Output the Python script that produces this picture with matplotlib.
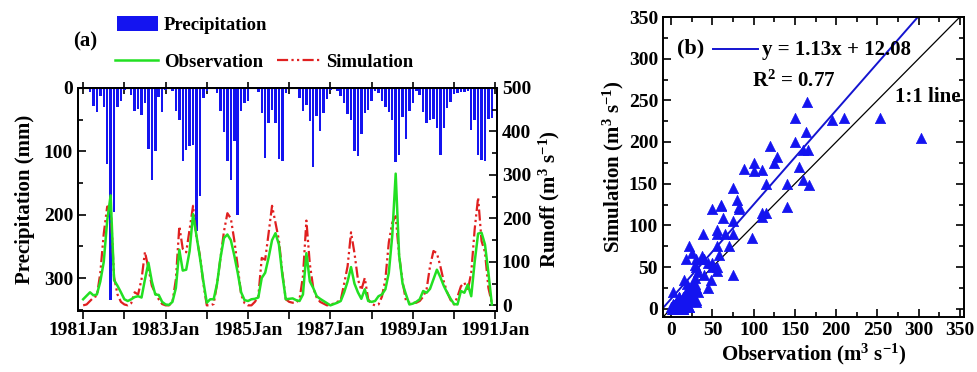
import numpy as np
import matplotlib
matplotlib.use("Agg")
import matplotlib.pyplot as plt
from matplotlib.ticker import MultipleLocator, FixedLocator

plt.rcParams['font.family'] = ['Liberation Serif', 'DejaVu Serif']
plt.rcParams['font.weight'] = 'bold'
plt.rcParams['axes.labelweight'] = 'bold'
plt.rcParams['mathtext.default'] = 'regular'

# monthly precipitation (mm), Jan 1981 - Dec 1990
precip = [7, 28, 38, 12, 30, 120, 335, 195, 30, 20, 3, 1,
          11, 37, 33, 43, 24, 97, 145, 100, 14, 38, 3, 1,
          5, 36, 50, 116, 98, 92, 90, 226, 170, 16, 4, 1,
          2, 8, 37, 70, 115, 146, 83, 200, 37, 24, 21, 2,
          1, 6, 40, 110, 55, 35, 55, 112, 116, 8, 1, 0,
          2, 16, 36, 27, 52, 124, 44, 68, 40, 18, 3, 0,
          4, 12, 23, 41, 51, 100, 107, 72, 40, 35, 20, 5,
          8, 20, 30, 38, 50, 117, 106, 45, 81, 37, 24, 5,
          11, 38, 56, 50, 49, 63, 106, 63, 32, 22, 10, 8,
          6, 6, 4, 66, 50, 106, 113, 116, 49, 48, 0, 0]

# monthly runoff (m3/s)
observed = [14, 22, 30, 23, 25, 55, 100, 195, 253, 58, 45, 30,
            14, 10, 14, 19, 21, 18, 60, 98, 55, 25, 24, 8,
            2, 1, 8, 40, 128, 80, 82, 125, 210, 160, 110, 55,
            6, 14, 14, 50, 110, 155, 163, 150, 115, 75, 30, 12,
            10, 14, 15, 18, 63, 75, 110, 150, 166, 140, 70, 14,
            15, 16, 12, 10, 25, 120, 55, 40, 21, 15, 10, 5,
            0, 3, 6, 10, 30, 55, 88, 50, 30, 15, 37, 10,
            8, 10, 21, 25, 37, 75, 160, 303, 115, 50, 25, 2,
            4, 8, 14, 33, 29, 38, 60, 82, 65, 45, 29, 15,
            3, 2, 33, 29, 48, 21, 100, 165, 167, 140, 75, 2]

simulated = [0, 2, 10, 18, 22, 75, 165, 227, 229, 65, 25, 8,
             2, 0, 5, 30, 25, 60, 123, 85, 45, 28, 14, 3,
             0, 0, 8, 60, 182, 130, 122, 175, 229, 155, 115, 50,
             0, 0, 3, 50, 110, 170, 212, 200, 150, 90, 25, 5,
             0, 0, 8, 20, 109, 105, 166, 229, 190, 150, 75, 14,
             8, 6, 6, 14, 67, 195, 95, 40, 18, 8, 4, 0,
             2, 4, 8, 12, 50, 90, 168, 120, 60, 35, 63, 14,
             3, 0, 2, 20, 60, 145, 190, 205, 115, 55, 10, 6,
             6, 6, 10, 20, 37, 90, 125, 120, 90, 55, 30, 12,
             2, 20, 44, 52, 35, 75, 175, 248, 148, 122, 40, 5]

fit_slope, fit_intercept, r2 = 1.13, 12.08, 0.77
year_labels = ['1981Jan', '1983Jan', '1985Jan', '1987Jan', '1989Jan', '1991Jan']

months = np.arange(len(observed))
precip_x = months + 2  # bars sit about two months right of the runoff curves in the source

fig = plt.figure(figsize=(9.78, 3.72), dpi=100)

# ---- panel (a)
ax = fig.add_axes([78 / 978, 1 - 311 / 372, 419 / 978, 223 / 372])
bars = ax.bar(precip_x, precip, width=0.72, color='#1414f0', zorder=1)
ax.set_ylim(352, 0)
ax.set_xlim(-1.5, 120.5)
ax.yaxis.set_major_locator(FixedLocator([0, 100, 200, 300]))
ax.yaxis.set_minor_locator(MultipleLocator(50))
ax.set_xticks(np.arange(0, 121, 24))
ax.set_xticklabels(year_labels)
ax.set_xticks(np.arange(12, 121, 24), minor=True)
ax.tick_params(axis='x', which='both', direction='out', length=6, width=1.2,
               labelsize=14, pad=2)
ax.tick_params(axis='y', which='both', direction='in', width=1.2, labelsize=14)
ax.tick_params(axis='y', which='major', length=6)
ax.tick_params(axis='y', which='minor', length=3.5)
ax.set_ylabel('Precipitation (mm)', fontsize=15, labelpad=6)

top = ax.secondary_xaxis('top')
top.set_xticks(np.arange(0, 121, 12))
top.tick_params(direction='inout', length=8, width=1.2, labeltop=False)

ax2 = ax.twinx()
obs_line, = ax2.plot(months, observed, color='#22e022', lw=1.8, zorder=3)
sim_line, = ax2.plot(months, simulated, color='#e02020', lw=1.6,
                     linestyle=(0, (5, 1.5, 1, 1.5, 1, 1.5)), zorder=2)
ax2.set_ylim(-13, 500)
ax2.yaxis.set_major_locator(MultipleLocator(100))
ax2.yaxis.set_minor_locator(MultipleLocator(50))
ax2.tick_params(axis='y', which='both', direction='in', width=1.2, labelsize=14)
ax2.tick_params(axis='y', which='major', length=6)
ax2.tick_params(axis='y', which='minor', length=3.5)
ax2.set_ylabel('Runoff (m$^{3}$ s$^{-1}$)', fontsize=15, labelpad=4)
for a in (ax, ax2):
    for s in a.spines.values():
        s.set_linewidth(1.4)
    for lab in a.get_xticklabels() + a.get_yticklabels():
        lab.set_fontweight('bold')

fig.legend([bars], ['Precipitation'], loc='center left',
           bbox_to_anchor=(117 / 978, 1 - 25 / 372), frameon=False, fontsize=13.5,
           handlelength=2.2, handleheight=0.9, handletextpad=0.3, borderpad=0,
           borderaxespad=0)
fig.legend([obs_line, sim_line], ['Observation', 'Simulation'], loc='center left',
           bbox_to_anchor=(115 / 978, 1 - 62 / 372), frameon=False, fontsize=13.5,
           ncol=2, handlelength=2.3, handletextpad=0.3, columnspacing=0.75,
           borderpad=0, borderaxespad=0)
fig.text(73 / 978, 1 - 41 / 372, '(a)', fontsize=15, va='center')

# ---- panel (b)
bx = fig.add_axes([663 / 978, 1 - 317 / 372, 301 / 978, 300 / 372])
obs = np.array(observed)
sim = np.array(simulated)
bx.scatter(obs, sim, marker='^', s=55, color='#1414f0', edgecolors='#1414f0',
           linewidths=0.5, zorder=3)
lim = np.array([-10, 355])
bx.plot(lim, lim, color='black', lw=0.9, zorder=2)
bx.plot(lim, fit_slope * lim + fit_intercept, color='#1414d0', lw=1.4, zorder=2)
bx.set_xlim(-10, 355)
bx.set_ylim(-10, 350)
for axis in (bx.xaxis, bx.yaxis):
    axis.set_major_locator(MultipleLocator(50))
    axis.set_minor_locator(MultipleLocator(25))
bx.tick_params(which='both', direction='in', top=True, right=True, width=1.2,
               labelsize=14)
bx.tick_params(which='major', length=6)
bx.tick_params(which='minor', length=3.5)
for s in bx.spines.values():
    s.set_linewidth(1.4)
for lab in bx.get_xticklabels() + bx.get_yticklabels():
    lab.set_fontweight('bold')
bx.set_xlabel('Observation (m$^{3}$ s$^{-1}$)', fontsize=15, labelpad=2)
bx.set_ylabel('Simulation (m$^{3}$ s$^{-1}$)', fontsize=15, labelpad=2)

bx.text(0.045, 0.895, '(b)', transform=bx.transAxes, fontsize=16, va='center')
bx.plot([0.165, 0.315], [0.895, 0.895], transform=bx.transAxes, color='#1414d0', lw=1.4)
bx.text(0.33, 0.89, f'y = {fit_slope:.2f}x + {fit_intercept:.2f}', transform=bx.transAxes,
        fontsize=15, va='center')
bx.text(0.295, 0.785, f'R$^{{2}}$ = {r2:.2f}', transform=bx.transAxes, fontsize=15,
        va='center')
bx.text(0.77, 0.735, '1:1 line', transform=bx.transAxes, fontsize=15, va='center')

fig.savefig('out.png', dpi=100)
